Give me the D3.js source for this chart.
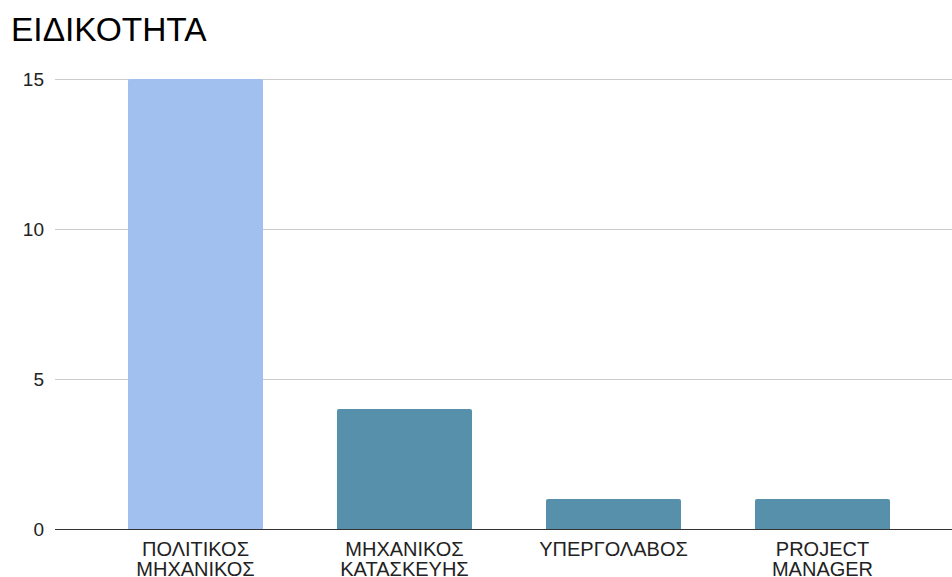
<!DOCTYPE html>
<html>
<head>
<meta charset="utf-8">
<script src="https://cdn.jsdelivr.net/npm/d3@7"></script>
<style>
  body { margin: 0; background: #fff; }
  svg text { font-family: "Liberation Sans", Arial, sans-serif; }
</style>
</head>
<body>
<svg id="chart" width="952" height="577"></svg>
<script>
// data
var categories = [["ΠΟΛΙΤΙΚΟΣ", "ΜΗΧΑΝΙΚΟΣ"], ["ΜΗΧΑΝΙΚΟΣ", "ΚΑΤΑΣΚΕΥΗΣ"], ["ΥΠΕΡΓΟΛΑΒΟΣ"], ["PROJECT", "MANAGER"]];
var values = [15, 4, 1, 1];
var yTicks = [0, 5, 10, 15];
var barColors = ["#a1bfef", "#5790ab", "#5790ab", "#5790ab"];

var svg = d3.select("#chart");
var plotLeft = 55, plotRight = 952, plotTop = 79, plotBottom = 529;

var x = d3.scaleBand()
  .domain(d3.range(values.length))
  .range([91, 927])
  .paddingInner(0.354)
  .paddingOuter(0.177);

var y = d3.scaleLinear()
  .domain([0, 15])
  .range([plotBottom, plotTop]);

// title
svg.append("text")
  .attr("x", 11)
  .attr("y", 41)
  .attr("font-size", 33.5)
  .attr("fill", "#000")
  .text("ΕΙΔΙΚΟΤΗΤΑ");

// gridlines
svg.append("g")
  .selectAll("line")
  .data(yTicks.filter(function(d){ return d > 0; }))
  .enter().append("line")
    .attr("x1", plotLeft)
    .attr("x2", plotRight)
    .attr("y1", function(d){ return y(d) + 0.5; })
    .attr("y2", function(d){ return y(d) + 0.5; })
    .attr("stroke", "#cccccc")
    .attr("stroke-width", 1);

// y axis labels
var yAxis = d3.axisLeft(y).tickValues(yTicks).tickSize(0).tickPadding(0);
var yg = svg.append("g")
  .attr("transform", "translate(44,0)")
  .call(yAxis);
yg.select(".domain").remove();
yg.selectAll("text")
  .attr("font-size", 19)
  .attr("fill", "#222")
  .style("font-family", "Liberation Sans, Arial, sans-serif");

// bars
svg.append("g")
  .selectAll("path")
  .data(values)
  .enter().append("path")
    .attr("fill", function(d, i){ return barColors[i]; })
    .attr("d", function(d, i){
      var x0 = x(i), w = x.bandwidth(), y0 = y(d), r = 2;
      return "M" + x0 + "," + plotBottom +
        "V" + (y0 + r) +
        "Q" + x0 + "," + y0 + " " + (x0 + r) + "," + y0 +
        "H" + (x0 + w - r) +
        "Q" + (x0 + w) + "," + y0 + " " + (x0 + w) + "," + (y0 + r) +
        "V" + plotBottom + "Z";
    });

// baseline
svg.append("line")
  .attr("x1", plotLeft)
  .attr("x2", plotRight)
  .attr("y1", plotBottom + 0.5)
  .attr("y2", plotBottom + 0.5)
  .attr("stroke", "#333")
  .attr("stroke-width", 1);

// category labels
var labels = svg.append("g")
  .selectAll("text")
  .data(categories)
  .enter().append("text")
    .attr("text-anchor", "middle")
    .attr("font-size", 20)
    .attr("fill", "#222")
    .attr("transform", function(d, i){ return "translate(" + (x(i) + x.bandwidth() / 2) + ",556)"; });

labels.selectAll("tspan")
  .data(function(d){ return d; })
  .enter().append("tspan")
    .attr("x", 0)
    .attr("dy", function(d, j){ return j === 0 ? 0 : 20; })
    .text(function(d){ return d; });
</script>
</body>
</html>
